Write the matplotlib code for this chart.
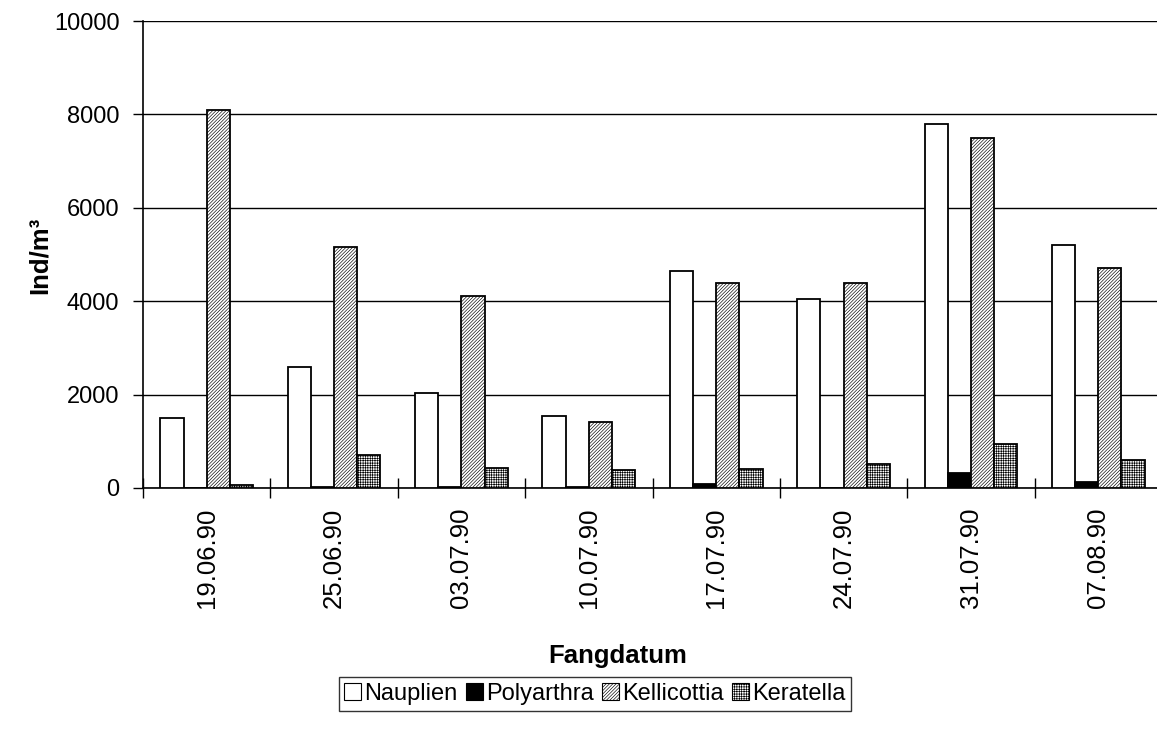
import matplotlib
matplotlib.use("Agg")
import matplotlib.pyplot as plt
import numpy as np
from matplotlib.patches import Patch

plt.rcParams["font.family"] = ["Liberation Sans", "DejaVu Sans"]
plt.rcParams["hatch.linewidth"] = 0.45

dates = ["19.06.90", "25.06.90", "03.07.90", "10.07.90",
         "17.07.90", "24.07.90", "31.07.90", "07.08.90"]
nauplien = [1500, 2600, 2030, 1550, 4640, 4040, 7800, 5200]
polyarthra = [0, 20, 15, 30, 85, 0, 330, 130]
kellicottia = [8100, 5170, 4110, 1420, 4390, 4400, 7500, 4720]
keratella = [60, 700, 430, 380, 400, 520, 950, 610]

series = [
    ("Nauplien", nauplien, dict(facecolor="white", hatch=None)),
    ("Polyarthra", polyarthra, dict(facecolor="black", hatch=None)),
    ("Kellicottia", kellicottia, dict(facecolor="white", hatch="/" * 10)),
    ("Keratella", keratella, dict(facecolor="white", hatch="+" * 7)),
]

FS = 18.5
W, H = 1157, 740
fig = plt.figure(figsize=(W / 100, H / 100), dpi=100)
ax = fig.add_axes([143 / W, 252 / H, 1019 / W, 467 / H])

x = np.arange(len(dates))
w = 1 / 5.5
for i, (name, vals, style) in enumerate(series):
    ax.bar(x + (i - 1.5) * w, vals, width=w, edgecolor="black",
           linewidth=1.3, zorder=3, **style)

ax.set_xlim(-0.5, len(dates) - 0.5)
ax.set_ylim(0, 10000)
ax.set_yticks(np.arange(0, 10001, 2000))
ax.yaxis.grid(True, color="black", linewidth=1.0, zorder=0)
ax.tick_params(axis="y", labelsize=17, direction="out", length=7,
               width=1, pad=10)

# group boundaries as major ticks, date labels at group centres
ax.set_xticks(np.arange(-0.5, len(dates)))
ax.set_xticklabels([])
ax.set_xticks(x, minor=True)
ax.set_xticklabels(dates, minor=True, rotation=90, fontsize=FS)
ax.tick_params(axis="x", which="major", direction="inout", length=14, width=1)
ax.tick_params(axis="x", which="minor", length=0, pad=14)

for side in ("top", "right"):
    ax.spines[side].set_visible(False)
for side in ("left", "bottom"):
    ax.spines[side].set_linewidth(1.2)

fig.text(40 / W, 1 - 255 / H, "Ind/m³", rotation=90, ha="center",
         va="center", fontsize=FS, fontweight="bold")
fig.text(618 / W, 1 - 656 / H, "Fangdatum", ha="center", va="center",
         fontsize=FS, fontweight="bold")

handles = [Patch(edgecolor="black", linewidth=0.8, label=name, **style)
           for name, vals, style in series]
leg = fig.legend(handles=handles, loc="center",
                 bbox_to_anchor=(595 / W, 1 - 694 / H), ncol=4, fontsize=17,
                 frameon=True, fancybox=False, edgecolor="black",
                 handlelength=0.7, handleheight=0.7, handletextpad=0.15,
                 columnspacing=0.35, borderpad=0.25, borderaxespad=0)
leg.get_frame().set_linewidth(1.0)

fig.savefig("out.png", dpi=100)
